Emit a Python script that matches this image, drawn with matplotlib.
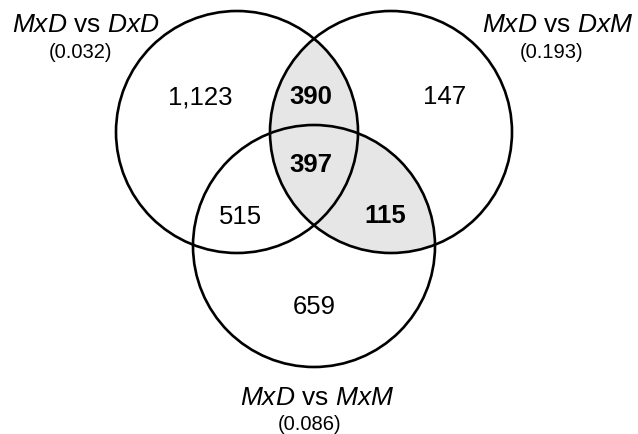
import matplotlib.pyplot as plt
from matplotlib.patches import Circle

plt.rcParams['font.family'] = 'Liberation Sans'
plt.rcParams['mathtext.fontset'] = 'custom'
plt.rcParams['mathtext.it'] = 'Liberation Sans:italic'
plt.rcParams['mathtext.rm'] = 'Liberation Sans'

# sets and their p-values
set_names = [r"$MxD$ vs $DxD$", r"$MxD$ vs $DxM$", r"$MxD$ vs $MxM$"]
set_pvals = ["(0.032)", "(0.193)", "(0.086)"]

# region counts: A only, A&B, B only, A&B&C, A&C, B&C, C only
region_counts = ["1,123", "390", "147", "397", "515", "115", "659"]
region_bold = [False, True, False, True, False, True, False]

# layout (pixel coords, y down)
centers = [(237, 133), (391, 133), (314, 247)]
radius = 121
region_pos = [(200, 97), (311, 97), (445, 97), (311, 165), (240, 217), (385, 216), (314, 307)]
name_pos = [(86, 25), (558, 25), (317, 398)]
pval_pos = [(81, 53), (552, 53), (310, 425)]

fig = plt.figure(figsize=(6.38, 4.35), dpi=100)
ax = fig.add_axes([0, 0, 1, 1])
ax.set_xlim(0, 638)
ax.set_ylim(435, 0)
ax.set_aspect('equal')
ax.axis('off')

grey = '#e6e6e6'
# grey fill for A&B and B&C
clipA = Circle(centers[0], radius, transform=ax.transData)
clipB = Circle(centers[1], radius, transform=ax.transData)
fillB = Circle(centers[1], radius, facecolor=grey, edgecolor='none')
ax.add_patch(fillB)
fillB.set_clip_path(clipA)
fillC = Circle(centers[2], radius, facecolor=grey, edgecolor='none')
ax.add_patch(fillC)
fillC.set_clip_path(clipB)

for c in centers:
    ax.add_patch(Circle(c, radius, facecolor='none', edgecolor='black', lw=1.9))

for txt, (x, y), b in zip(region_counts, region_pos, region_bold):
    ax.text(x, y, txt, ha='center', va='center', fontsize=18.5,
            fontweight='bold' if b else 'normal')

for name, pv, (x, y), (px, py) in zip(set_names, set_pvals, name_pos, pval_pos):
    ax.text(x, y, name, ha='center', va='center', fontsize=19)
    ax.text(px, py, pv, ha='center', va='center', fontsize=14.5)

fig.savefig('out.png', dpi=100)
